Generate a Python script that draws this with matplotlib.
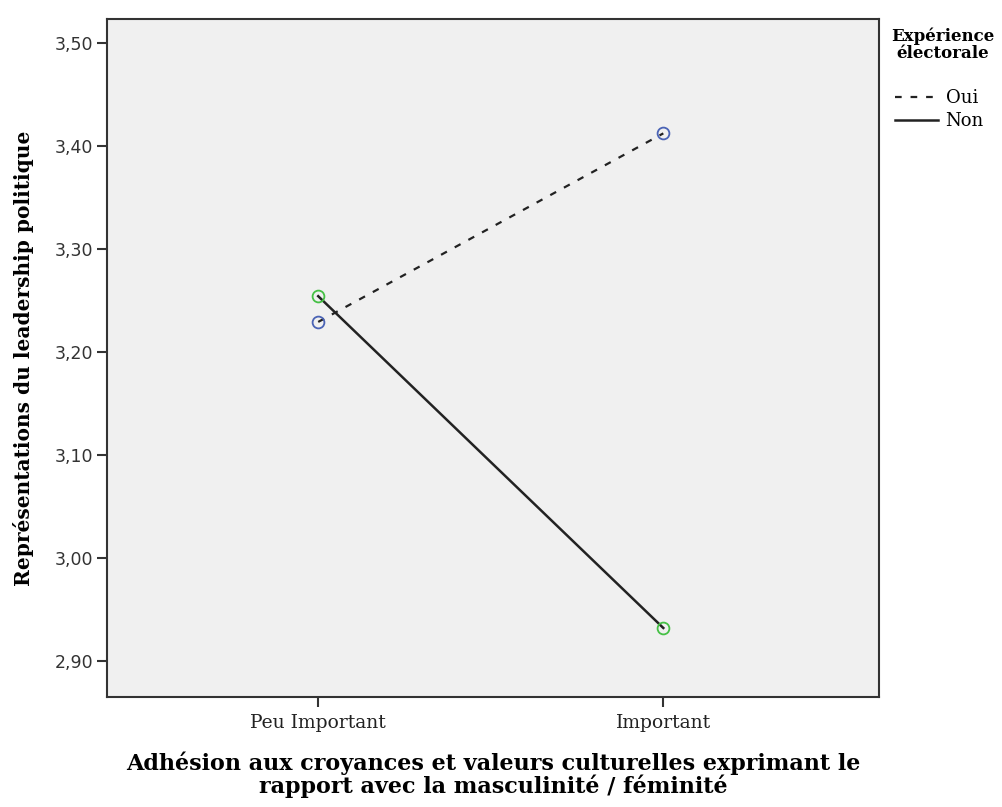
import matplotlib
matplotlib.use("Agg")
import matplotlib.pyplot as plt
from matplotlib.lines import Line2D

categories = ["Peu Important", "Important"]
oui = [3.229, 3.412]
non = [3.254, 2.932]
yticks = [2.90, 3.00, 3.10, 3.20, 3.30, 3.40, 3.50]
ytick_labels = ["2,90", "3,00", "3,10", "3,20", "3,30", "3,40", "3,50"]

SERIF = "DejaVu Serif"

fig = plt.figure(figsize=(10.02, 8.07), dpi=100)
ax = fig.add_axes([107/1002, 1-697/807, (879-107)/1002, (697-19)/807])
ax.set_facecolor("#F0F0F0")

x = list(range(len(categories)))
ax.plot(x, oui, color="#222222", lw=1.6, ls=(0, (3, 4)), zorder=2)
ax.plot(x, non, color="#222222", lw=1.8, ls="-", zorder=2)
ax.plot(x, oui, ls="none", marker="o", ms=8.5, mfc="none", mec="#4A63B5", mew=1.3, zorder=3)
ax.plot(x, non, ls="none", marker="o", ms=8.5, mfc="none", mec="#45C045", mew=1.3, zorder=3)

ax.set_xlim(-0.612, 1.625)
ax.set_ylim(2.865, 3.523)
ax.set_xticks(x)
ax.set_xticklabels(categories, fontfamily=SERIF, fontsize=13.5, color="#222222")
ax.set_yticks(yticks)
ax.set_yticklabels(ytick_labels, fontfamily="DejaVu Sans", fontsize=12.5, color="#333333")
ax.tick_params(axis="both", length=7, width=1.5, color="#333333", pad=3)
ax.tick_params(axis="x", pad=5)
for s in ax.spines.values():
    s.set_linewidth(1.5)
    s.set_color("#333333")

ax.set_ylabel("Représentations du leadership politique", fontfamily=SERIF,
              fontweight="bold", fontsize=14.5, labelpad=15)
ax.set_xlabel("Adhésion aux croyances et valeurs culturelles exprimant le\nrapport avec la masculinité / féminité",
              fontfamily=SERIF, fontweight="bold", fontsize=16, labelpad=14, linespacing=1.0)

handles = [Line2D([], [], color="#222222", lw=1.6, ls=(0, (3, 4))),
           Line2D([], [], color="#222222", lw=1.8, ls="-")]
leg = fig.legend(handles, ["Oui", "Non"], loc="upper left", bbox_to_anchor=(886/1002, 1-18/807),
                 frameon=False, prop={"family": SERIF, "size": 13},
                 handlelength=2.4, handletextpad=0.4, labelspacing=0.25, borderpad=0.0,
                 title="Expérience\nélectorale",
                 title_fontproperties={"family": SERIF, "weight": "bold", "size": 12})
leg._legend_box.align = "left"
leg._legend_box.sep = 20
leg.get_title().set_linespacing(1.0)
leg.get_title().set_ha("center")
fig.canvas.draw()
# shift title so it fits within the figure, centered around x~943 px
t = leg.get_title()
bb = t.get_window_extent()
dx = (943 - (bb.x0 + bb.x1) / 2)
import matplotlib.transforms as mtransforms
t.set_transform(t.get_transform() + mtransforms.Affine2D().translate(dx, 0))

fig.savefig("out.png", dpi=100)
